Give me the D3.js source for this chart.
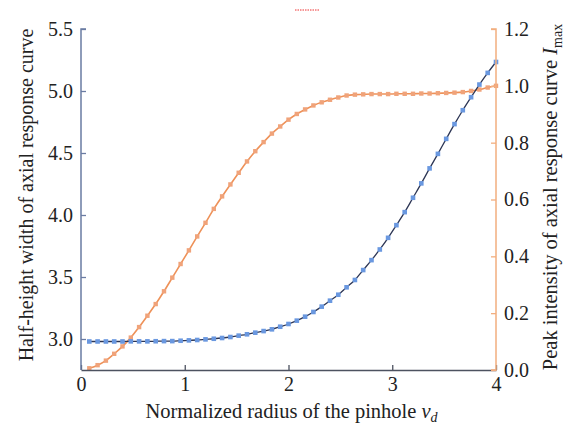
<!DOCTYPE html>
<html>
<head>
<meta charset="utf-8">
<script src="https://cdn.jsdelivr.net/npm/d3@7"></script>
<style>
  body { margin: 0; background: #fff; }
</style>
</head>
<body>
<div id="chart"></div>
<script>
// normalized pinhole radius, 0.08 step
const radius = d3.range(1, 51).map(k => +(k * 0.08).toFixed(2));

// half-height width of axial response curve (left axis)
const halfWidth = [
  2.980, 2.980, 2.980, 2.980, 2.980, 2.981, 2.981, 2.981, 2.982, 2.983,
  2.983, 2.986, 2.989, 2.992, 2.997, 3.002, 3.008, 3.016, 3.027, 3.038,
  3.051, 3.064, 3.078, 3.099, 3.121, 3.148, 3.180, 3.218, 3.261, 3.309,
  3.357, 3.417, 3.476, 3.556, 3.636, 3.722, 3.816, 3.918, 4.023, 4.139,
  4.255, 4.376, 4.493, 4.614, 4.733, 4.845, 4.950, 5.052, 5.146, 5.234
];

// peak intensity of axial response curve (right axis)
const peakIntensity = [
  0.006, 0.017, 0.033, 0.057, 0.083, 0.114, 0.151, 0.191, 0.232, 0.277,
  0.325, 0.373, 0.421, 0.470, 0.518, 0.567, 0.611, 0.653, 0.694, 0.734,
  0.770, 0.802, 0.832, 0.857, 0.881, 0.901, 0.917, 0.931, 0.942, 0.951,
  0.959, 0.966, 0.969, 0.970, 0.971, 0.971, 0.971, 0.972, 0.972, 0.972,
  0.973, 0.973, 0.974, 0.975, 0.976, 0.978, 0.982, 0.987, 0.994, 1.000
];

const xTicks = [0, 1, 2, 3, 4];
const leftTicks = [3.0, 3.5, 4.0, 4.5, 5.0, 5.5];
const rightTicks = [0.0, 0.2, 0.4, 0.6, 0.8, 1.0, 1.2];

const width = 573;
const height = 427;
const margin = { top: 29, right: 77, bottom: 57, left: 81 };
const serif = "Liberation Serif";

const x = d3.scaleLinear().domain([0, 4]).range([margin.left, width - margin.right]);
const yL = d3.scaleLinear().domain([2.75, 5.5]).range([height - margin.bottom, margin.top]);
const yR = d3.scaleLinear().domain([0, 1.2]).range([height - margin.bottom, margin.top]);

const svg = d3.select("#chart")
  .append("svg")
    .attr("width", width)
    .attr("height", height)
    .style("font-family", serif);

const leftColor = "#6a7ca3";
const rightColor = "#f2ae7f";
const bottomColor = "#4d5260";

// stray red dotted mark at top
svg.append("line")
  .attr("x1", 295).attr("x2", 319)
  .attr("y1", 10).attr("y2", 10)
  .attr("stroke", "#ee3030")
  .attr("stroke-width", 1)
  .attr("stroke-dasharray", "1.5,1");

// curves
const lineL = d3.line().x((d, i) => x(radius[i])).y(d => yL(d)).curve(d3.curveMonotoneX);
const lineR = d3.line().x((d, i) => x(radius[i])).y(d => yR(d)).curve(d3.curveMonotoneX);

svg.append("path")
  .datum(peakIntensity)
  .attr("fill", "none")
  .attr("stroke", "#ee9158")
  .attr("stroke-width", 1.6)
  .attr("d", lineR);

svg.append("g")
  .selectAll("rect")
  .data(peakIntensity)
  .join("rect")
    .attr("x", (d, i) => x(radius[i]) - 2.2)
    .attr("y", d => yR(d) - 2.2)
    .attr("width", 4.4)
    .attr("height", 4.4)
    .attr("fill", "#f0a37a");

svg.append("path")
  .datum(halfWidth)
  .attr("fill", "none")
  .attr("stroke", "#2c3554")
  .attr("stroke-width", 1.3)
  .attr("d", lineL);

svg.append("g")
  .selectAll("rect")
  .data(halfWidth)
  .join("rect")
    .attr("x", (d, i) => x(radius[i]) - 2.3)
    .attr("y", d => yL(d) - 2.3)
    .attr("width", 4.6)
    .attr("height", 4.6)
    .attr("fill", "#6a98e0");

// axes
function styleAxis(g, color) {
  g.attr("font-family", null);
  g.selectAll(".tick line").attr("stroke", color).attr("stroke-width", 1.3);
  g.selectAll(".tick text")
    .attr("font-size", 20)
    .style("font-family", serif)
    .attr("fill", "#222");
}

const gx = svg.append("g")
  .attr("transform", `translate(0,${height - margin.bottom})`)
  .call(d3.axisBottom(x).tickValues(xTicks).tickFormat(d3.format("d")).tickSizeInner(-5).tickSizeOuter(0).tickPadding(7));
gx.select(".domain").attr("stroke", bottomColor).attr("stroke-width", 1.5);
styleAxis(gx, bottomColor);

const gl = svg.append("g")
  .attr("transform", `translate(${margin.left},0)`)
  .call(d3.axisLeft(yL).tickValues(leftTicks).tickFormat(d3.format(".1f")).tickSizeInner(-5).tickSizeOuter(0).tickPadding(8));
gl.select(".domain").attr("stroke", leftColor).attr("stroke-width", 1.5)
  .attr("d", `M5,${yL(5.5)}H0V${yL(2.75)}`);
styleAxis(gl, leftColor);

const gr = svg.append("g")
  .attr("transform", `translate(${width - margin.right},0)`)
  .call(d3.axisRight(yR).tickValues(rightTicks).tickFormat(d3.format(".1f")).tickSizeInner(-5).tickSizeOuter(0).tickPadding(8));
gr.select(".domain").attr("stroke", rightColor).attr("stroke-width", 1.5)
  .attr("d", `M-5,${yR(1.2)}H0V${yR(0)}H-5`);
styleAxis(gr, rightColor);

// axis titles
const xTitle = svg.append("text")
  .attr("x", (margin.left + width - margin.right) / 2 + 3)
  .attr("y", 418)
  .attr("text-anchor", "middle")
  .style("font-family", serif)
  .attr("font-size", 20.5)
  .attr("fill", "#222");
xTitle.append("tspan").text("Normalized radius of the pinhole ");
xTitle.append("tspan").attr("font-style", "italic").text("v");
xTitle.append("tspan").attr("font-style", "italic").attr("font-size", 14).attr("dy", 4).text("d");

svg.append("text")
  .attr("transform", `translate(33,195) rotate(-90)`)
  .attr("text-anchor", "middle")
  .style("font-family", serif)
  .attr("font-size", 20)
  .attr("fill", "#222")
  .text("Half-height width of axial response curve");

const rTitle = svg.append("text")
  .attr("transform", `translate(557,197) rotate(-90)`)
  .attr("text-anchor", "middle")
  .style("font-family", serif)
  .attr("font-size", 20.5)
  .attr("fill", "#222");
rTitle.append("tspan").text("Peak intensity of axial response curve ");
rTitle.append("tspan").attr("font-style", "italic").text("I");
rTitle.append("tspan").attr("font-size", 14).attr("dy", 5).text("max");
</script>
</body>
</html>
